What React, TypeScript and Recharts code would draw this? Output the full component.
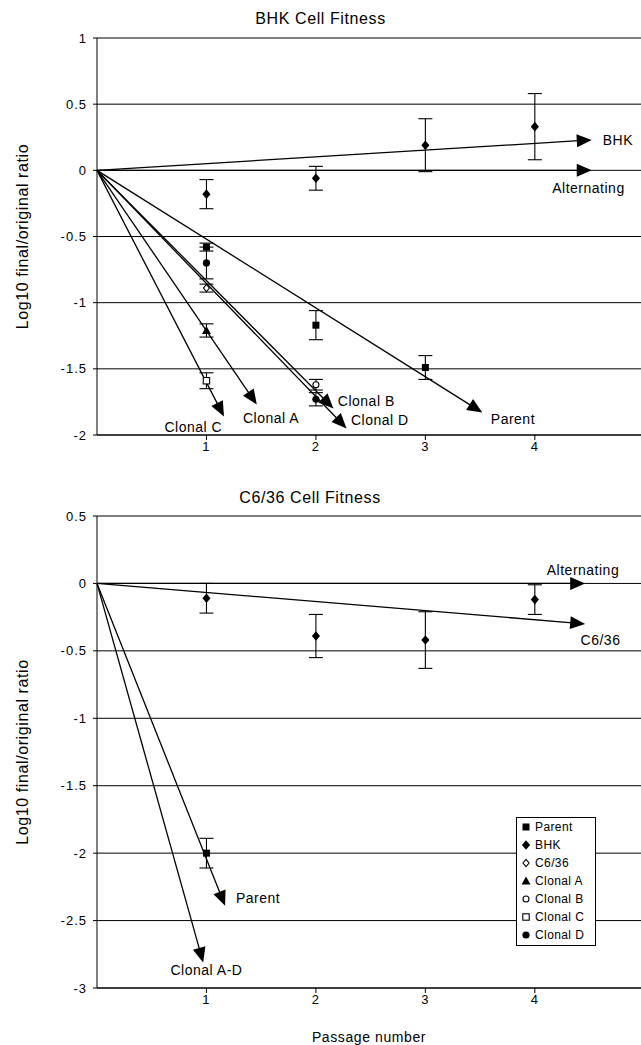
import React from "react";
import {
  ComposedChart,
  Scatter,
  ErrorBar,
  XAxis,
  YAxis,
  CartesianGrid,
  ReferenceLine,
  ReferenceDot,
  Legend,
  Label,
} from "recharts";

type Pt = { x: number; y: number; err: number };
type Kind = "square" | "diamond" | "openDiamond" | "triangle" | "openCircle" | "openSquare" | "circle";

const passageTicks = [1, 2, 3, 4];
const bhkYTicks = [-2, -1.5, -1, -0.5, 0, 0.5, 1];
const c636YTicks = [-3, -2.5, -2, -1.5, -1, -0.5, 0, 0.5];

// BHK cell fitness, mean ± error per passage
const bhkParent: Pt[] = [
  { x: 1, y: -0.58, err: 0.03 },
  { x: 2, y: -1.17, err: 0.11 },
  { x: 3, y: -1.49, err: 0.09 },
];
const bhkBhk: Pt[] = [
  { x: 1, y: -0.18, err: 0.11 },
  { x: 2, y: -0.06, err: 0.09 },
  { x: 3, y: 0.19, err: 0.2 },
  { x: 4, y: 0.33, err: 0.25 },
];
const bhkC636: Pt[] = [{ x: 1, y: -0.89, err: 0.03 }];
const bhkClonalA: Pt[] = [{ x: 1, y: -1.21, err: 0.05 }];
const bhkClonalB: Pt[] = [{ x: 2, y: -1.62, err: 0.04 }];
const bhkClonalC: Pt[] = [{ x: 1, y: -1.59, err: 0.06 }];
const bhkClonalD: Pt[] = [
  { x: 1, y: -0.7, err: 0.12 },
  { x: 2, y: -1.73, err: 0.05 },
];

// C6/36 cell fitness
const c6C636: Pt[] = [
  { x: 1, y: -0.11, err: 0.11 },
  { x: 2, y: -0.39, err: 0.16 },
  { x: 3, y: -0.42, err: 0.21 },
  { x: 4, y: -0.12, err: 0.11 },
];
const c6Parent: Pt[] = [{ x: 1, y: -2.0, err: 0.11 }];

// trend arrows from the origin: [name, tip x, tip y]
const bhkTrends: [string, number, number][] = [
  ["BHK", 4.52, 0.23],
  ["Alternating", 4.52, 0],
  ["Parent", 3.52, -1.83],
  ["Clonal A", 1.46, -1.77],
  ["Clonal B", 2.16, -1.8],
  ["Clonal C", 1.16, -1.86],
  ["Clonal D", 2.28, -1.95],
];
const c6Trends: [string, number, number][] = [
  ["Alternating", 4.46, 0],
  ["C6/36", 4.46, -0.3],
  ["Parent", 1.17, -2.39],
  ["Clonal A-D", 0.97, -2.81],
];

// where each arrow's name sits: [text, x, y, anchor]
const bhkTrendLabels: [string, number, number, "start" | "middle"][] = [
  ["BHK", 4.62, 0.23, "start"],
  ["Alternating", 4.49, -0.13, "middle"],
  ["Parent", 3.8, -1.88, "middle"],
  ["Clonal A", 1.59, -1.87, "middle"],
  ["Clonal B", 2.2, -1.74, "start"],
  ["Clonal C", 0.88, -1.94, "middle"],
  ["Clonal D", 2.32, -1.89, "start"],
];
const c6TrendLabels: [string, number, number, "start" | "middle"][] = [
  ["Alternating", 4.44, 0.1, "middle"],
  ["C6/36", 4.6, -0.42, "middle"],
  ["Parent", 1.27, -2.33, "start"],
  ["Clonal A-D", 1.0, -2.87, "middle"],
];

const legendItems: [string, Kind][] = [
  ["Parent", "square"],
  ["BHK", "diamond"],
  ["C6/36", "openDiamond"],
  ["Clonal A", "triangle"],
  ["Clonal B", "openCircle"],
  ["Clonal C", "openSquare"],
  ["Clonal D", "circle"],
];

const FONT = '"Liberation Sans", Arial, sans-serif';

function Marker({ kind, cx, cy }: { kind: Kind; cx: number; cy: number }) {
  const dia = (s: number) => `M${cx},${cy - s}L${cx + s * 0.85},${cy}L${cx},${cy + s}L${cx - s * 0.85},${cy}Z`;
  switch (kind) {
    case "square":
      return <rect x={cx - 3.5} y={cy - 3.5} width={7} height={7} fill="#000" />;
    case "diamond":
      return <path d={dia(4.8)} fill="#000" />;
    case "openDiamond":
      return <path d={dia(3.6)} fill="#fff" stroke="#000" strokeWidth={1.1} />;
    case "triangle":
      return <path d={`M${cx},${cy - 4.5}L${cx + 4.5},${cy + 3.5}L${cx - 4.5},${cy + 3.5}Z`} fill="#000" />;
    case "openCircle":
      return <circle cx={cx} cy={cy} r={3} fill="#fff" stroke="#000" strokeWidth={1.1} />;
    case "openSquare":
      return <rect x={cx - 3.2} y={cy - 3.2} width={6.4} height={6.4} fill="#fff" stroke="#000" strokeWidth={1.1} />;
    default:
      return <circle cx={cx} cy={cy} r={3.6} fill="#000" />;
  }
}

function Arrow(props: any) {
  const { x1, y1, x2, y2 } = props;
  const dx = x2 - x1;
  const dy = y2 - y1;
  const len = Math.hypot(dx, dy) || 1;
  const ux = dx / len;
  const uy = dy / len;
  const head = 15;
  const half = 6.5;
  const bx = x2 - ux * head;
  const by = y2 - uy * head;
  return (
    <g>
      <line x1={x1} y1={y1} x2={bx + ux * 2} y2={by + uy * 2} stroke="#000" strokeWidth={1.3} />
      <path
        d={`M${x2},${y2}L${bx - uy * half},${by + ux * half}L${bx + uy * half},${by - ux * half}Z`}
        fill="#000"
      />
    </g>
  );
}

function YTitle({ viewBox }: any) {
  const cy = viewBox.y + viewBox.height / 2;
  return (
    <text
      x={28}
      y={cy}
      transform={`rotate(-90, 28, ${cy})`}
      textAnchor="middle"
      fontSize={16}
      letterSpacing={0.6}
      fill="#000"
    >
      Log10 final/original ratio
    </text>
  );
}

function LegendBox() {
  return (
    <div
      style={{
        border: "1px solid #000",
        background: "#fff",
        width: 78,
        padding: "0 0 1px 0",
        fontFamily: FONT,
        fontSize: 12,
        lineHeight: "18px",
        letterSpacing: 0.4,
      }}
    >
      {legendItems.map(([name, kind]) => (
        <div key={name} style={{ display: "flex", alignItems: "center", height: 18 }}>
          <svg width={18} height={10} style={{ flex: "none" }}>
            <Marker kind={kind} cx={9} cy={5} />
          </svg>
          <span>{name}</span>
        </div>
      ))}
    </div>
  );
}

function series(data: Pt[], kind: Kind, name: string) {
  return (
    <Scatter
      key={name}
      name={name}
      data={data}
      dataKey="y"
      isAnimationActive={false}
      shape={(p: any) => <Marker kind={kind} cx={p.cx} cy={p.cy} />}
    >
      <ErrorBar dataKey="err" direction="y" width={7} stroke="#000" strokeWidth={1.1} />
    </Scatter>
  );
}

function arrows(trends: [string, number, number][]) {
  return trends.map(([name, x, y]) => (
    <ReferenceLine
      key={"a" + name}
      segment={[
        { x: 0, y: 0 },
        { x, y },
      ]}
      shape={Arrow}
      ifOverflow="visible"
    />
  ));
}

function trendLabels(labels: [string, number, number, "start" | "middle"][]) {
  return labels.map(([text, x, y, anchor]) => (
    <ReferenceDot
      key={"l" + text}
      x={x}
      y={y}
      r={0}
      ifOverflow="visible"
      shape={(p: any) => (
        <text
          x={p.cx}
          y={p.cy}
          textAnchor={anchor}
          dominantBaseline="central"
          fontSize={14}
          letterSpacing={0.5}
          fill="#000"
        >
          {text}
        </text>
      )}
    />
  ));
}

const axisTick = { fill: "#000", fontSize: 13, letterSpacing: 1 };

export default function App() {
  return (
    <div
      style={{
        position: "absolute",
        left: 0,
        top: 0,
        width: 641,
        height: 1045,
        background: "#fff",
        fontFamily: FONT,
        overflow: "hidden",
      }}
    >
      <div style={{ position: "absolute", left: 0, top: 10, width: 641, textAlign: "center", fontSize: 16, letterSpacing: 0.6 }}>
        BHK Cell Fitness
      </div>
      <div style={{ position: "absolute", top: 0, left: 0 }}>
        <ComposedChart width={641} height={470} margin={{ top: 38, right: 0, left: 0, bottom: 0 }}>
          <CartesianGrid vertical={false} stroke="#000" strokeWidth={1} />
          <XAxis
            type="number"
            dataKey="x"
            domain={[0, 4.97]}
            ticks={passageTicks}
            allowDataOverflow
            height={35}
            stroke="#000"
            tickSize={5}
            tick={axisTick}
          />
          <YAxis
            type="number"
            dataKey="y"
            domain={[-2, 1]}
            ticks={bhkYTicks}
            width={97}
            stroke="#000"
            tickSize={4}
            tickMargin={6}
            tick={axisTick}
          >
            <Label content={YTitle} />
          </YAxis>
          {arrows(bhkTrends)}
          {trendLabels(bhkTrendLabels)}
          {series(bhkParent, "square", "Parent")}
          {series(bhkBhk, "diamond", "BHK")}
          {series(bhkC636, "openDiamond", "C6/36")}
          {series(bhkClonalA, "triangle", "Clonal A")}
          {series(bhkClonalB, "openCircle", "Clonal B")}
          {series(bhkClonalC, "openSquare", "Clonal C")}
          {series(bhkClonalD, "circle", "Clonal D")}
        </ComposedChart>
      </div>

      <div style={{ position: "absolute", left: 0, top: 489, width: 620, textAlign: "center", fontSize: 16, letterSpacing: 0.6 }}>
        C6/36 Cell Fitness
      </div>
      <div style={{ position: "absolute", top: 470, left: 0 }}>
        <ComposedChart width={641} height={575} margin={{ top: 46, right: 0, left: 0, bottom: 0 }}>
          <CartesianGrid vertical={false} stroke="#000" strokeWidth={1} />
          <XAxis
            type="number"
            dataKey="x"
            domain={[0, 4.97]}
            ticks={passageTicks}
            allowDataOverflow
            height={57}
            stroke="#000"
            tickSize={5}
            tick={axisTick}
          >
            <Label value="Passage number" position="insideBottom" offset={3} fill="#000" fontSize={14} letterSpacing={0.6} />
          </XAxis>
          <YAxis
            type="number"
            dataKey="y"
            domain={[-3, 0.5]}
            ticks={c636YTicks}
            width={97}
            stroke="#000"
            tickSize={4}
            tickMargin={6}
            tick={axisTick}
          >
            <Label content={YTitle} />
          </YAxis>
          {arrows(c6Trends)}
          {trendLabels(c6TrendLabels)}
          {series(c6C636, "diamond", "C6/36")}
          {series(c6Parent, "square", "Parent")}
          <Legend
            layout="vertical"
            align="center"
            verticalAlign="middle"
            content={() => <LegendBox />}
            wrapperStyle={{ left: 516, top: 347, width: 80 }}
          />
        </ComposedChart>
      </div>
    </div>
  );
}
